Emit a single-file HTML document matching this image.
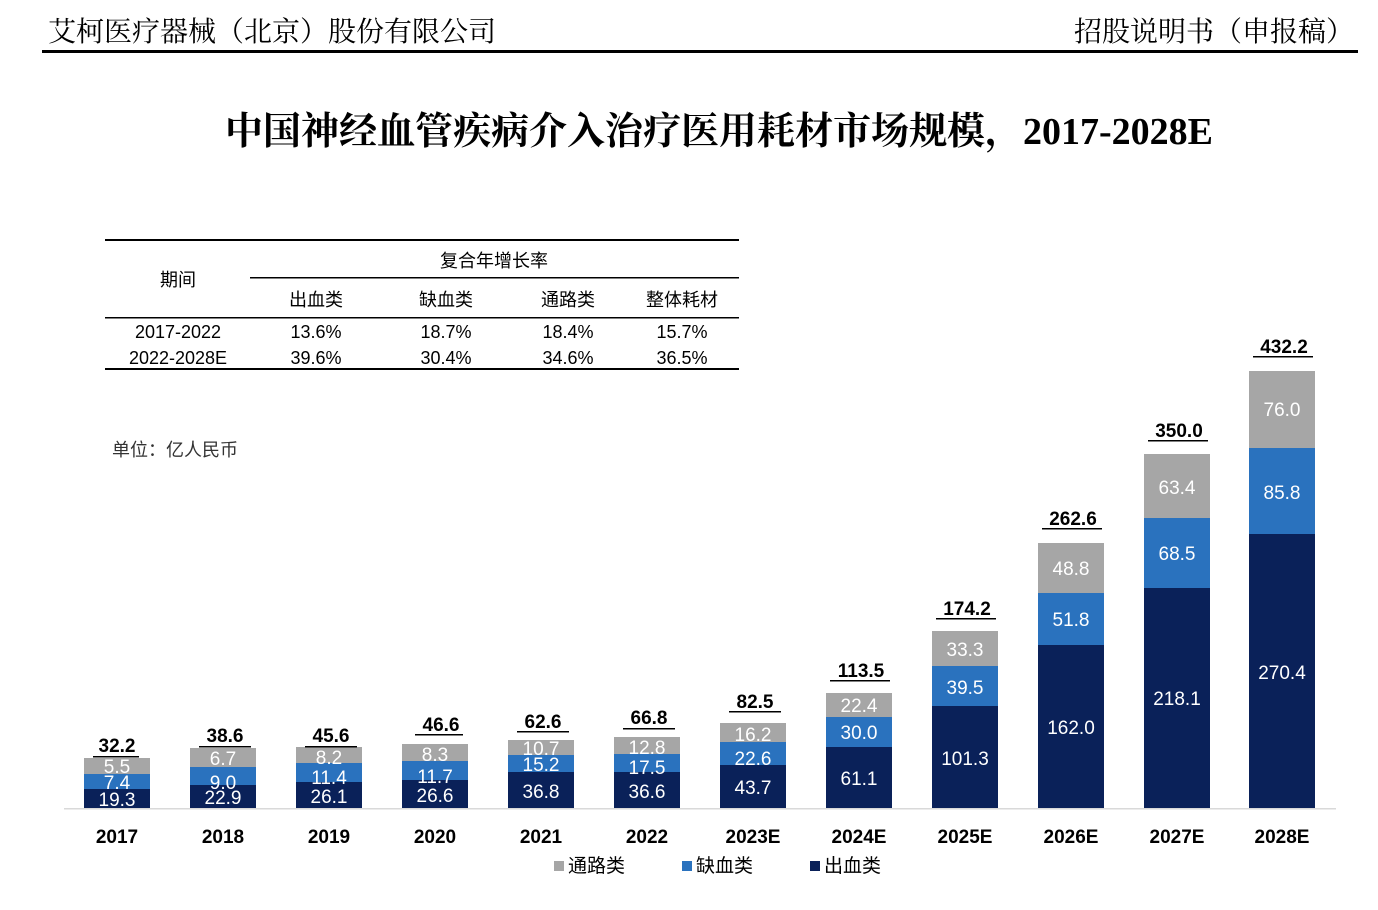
<!DOCTYPE html>
<html><head><meta charset="utf-8"><style>
html,body{margin:0;padding:0;background:#fff;}
svg{display:block;}
.s{font-family:"Liberation Serif","Noto Serif CJK SC",serif;}
.a{font-family:"Liberation Sans","Noto Sans CJK SC",sans-serif;}
</style></head><body>
<svg width="1378" height="910" viewBox="0 0 1378 910" xmlns="http://www.w3.org/2000/svg">
<text x="48" y="41" class="s" font-size="28" fill="#000">艾柯医疗器械（北京）股份有限公司</text>
<text x="1354" y="41" class="s" font-size="28" fill="#000" text-anchor="end">招股说明书（申报稿）</text>
<rect x="42" y="50" width="1316" height="3" fill="#000"/>
<text x="719" y="144" class="s" font-size="38" font-weight="bold" fill="#000" text-anchor="middle">中国神经血管疾病介入治疗医用耗材市场规模，2017-2028E</text>

<g class="a" font-size="18" fill="#000" text-anchor="middle">
<rect x="105" y="239" width="634" height="2" fill="#000"/>
<rect x="250" y="277" width="489" height="1.5" fill="#000"/>
<rect x="105" y="317" width="634" height="1.5" fill="#000"/>
<rect x="105" y="368" width="634" height="2" fill="#000"/>
<text x="178" y="286">期间</text>
<text x="494" y="267">复合年增长率</text>
<text x="316" y="306">出血类</text>
<text x="446" y="306">缺血类</text>
<text x="568" y="306">通路类</text>
<text x="682" y="306">整体耗材</text>
<text x="178" y="338">2017-2022</text>
<text x="316" y="338">13.6%</text><text x="446" y="338">18.7%</text><text x="568" y="338">18.4%</text><text x="682" y="338">15.7%</text>
<text x="178" y="364">2022-2028E</text>
<text x="316" y="364">39.6%</text><text x="446" y="364">30.4%</text><text x="568" y="364">34.6%</text><text x="682" y="364">36.5%</text>
</g>
<text x="112" y="456" class="a" font-size="18" fill="#333">单位：亿人民币</text>

<rect x="64" y="808" width="1272" height="1.5" fill="#d9d9d9"/>

<g class="a" font-size="19">
<rect x="84" y="758" width="66" height="16" fill="#a6a6a6"/><rect x="84" y="774" width="66" height="15" fill="#2a72be"/><rect x="84" y="789" width="66" height="19" fill="#0a2159"/>
<rect x="190" y="748" width="66" height="19" fill="#a6a6a6"/><rect x="190" y="767" width="66" height="18" fill="#2a72be"/><rect x="190" y="785" width="66" height="23" fill="#0a2159"/>
<rect x="296" y="747" width="66" height="16" fill="#a6a6a6"/><rect x="296" y="763" width="66" height="19" fill="#2a72be"/><rect x="296" y="782" width="66" height="26" fill="#0a2159"/>
<rect x="402" y="744" width="66" height="17" fill="#a6a6a6"/><rect x="402" y="761" width="66" height="19" fill="#2a72be"/><rect x="402" y="780" width="66" height="28" fill="#0a2159"/>
<rect x="508" y="740" width="66" height="15" fill="#a6a6a6"/><rect x="508" y="755" width="66" height="17" fill="#2a72be"/><rect x="508" y="772" width="66" height="36" fill="#0a2159"/>
<rect x="614" y="737" width="66" height="17" fill="#a6a6a6"/><rect x="614" y="754" width="66" height="18" fill="#2a72be"/><rect x="614" y="772" width="66" height="36" fill="#0a2159"/>
<rect x="720" y="723" width="66" height="19" fill="#a6a6a6"/><rect x="720" y="742" width="66" height="23" fill="#2a72be"/><rect x="720" y="765" width="66" height="43" fill="#0a2159"/>
<rect x="826" y="693" width="66" height="24" fill="#a6a6a6"/><rect x="826" y="717" width="66" height="30" fill="#2a72be"/><rect x="826" y="747" width="66" height="61" fill="#0a2159"/>
<rect x="932" y="631" width="66" height="35" fill="#a6a6a6"/><rect x="932" y="666" width="66" height="40" fill="#2a72be"/><rect x="932" y="706" width="66" height="102" fill="#0a2159"/>
<rect x="1038" y="543" width="66" height="50" fill="#a6a6a6"/><rect x="1038" y="593" width="66" height="52" fill="#2a72be"/><rect x="1038" y="645" width="66" height="163" fill="#0a2159"/>
<rect x="1144" y="454" width="66" height="64" fill="#a6a6a6"/><rect x="1144" y="518" width="66" height="70" fill="#2a72be"/><rect x="1144" y="588" width="66" height="220" fill="#0a2159"/>
<rect x="1249" y="371" width="66" height="77" fill="#a6a6a6"/><rect x="1249" y="448" width="66" height="86" fill="#2a72be"/><rect x="1249" y="534" width="66" height="274" fill="#0a2159"/>

<g fill="#fff" text-anchor="middle">
<text x="117" y="773">5.5</text><text x="117" y="789">7.4</text><text x="117" y="806">19.3</text>
<text x="223" y="765">6.7</text><text x="223" y="789">9.0</text><text x="223" y="804">22.9</text>
<text x="329" y="764">8.2</text><text x="329" y="784">11.4</text><text x="329" y="803">26.1</text>
<text x="435" y="761">8.3</text><text x="435" y="783">11.7</text><text x="435" y="802">26.6</text>
<text x="541" y="755">10.7</text><text x="541" y="771">15.2</text><text x="541" y="798">36.8</text>
<text x="647" y="754">12.8</text><text x="647" y="774">17.5</text><text x="647" y="798">36.6</text>
<text x="753" y="741">16.2</text><text x="753" y="765">22.6</text><text x="753" y="794">43.7</text>
<text x="859" y="712">22.4</text><text x="859" y="739">30.0</text><text x="859" y="785">61.1</text>
<text x="965" y="656">33.3</text><text x="965" y="694">39.5</text><text x="965" y="765">101.3</text>
<text x="1071" y="575">48.8</text><text x="1071" y="626">51.8</text><text x="1071" y="734">162.0</text>
<text x="1177" y="494">63.4</text><text x="1177" y="560">68.5</text><text x="1177" y="705">218.1</text>
<text x="1282" y="416">76.0</text><text x="1282" y="499">85.8</text><text x="1282" y="679">270.4</text>
</g>

<g fill="#000" text-anchor="middle" font-weight="bold">
<text x="117" y="752">32.2</text><text x="225" y="742">38.6</text><text x="331" y="742">45.6</text><text x="441" y="731">46.6</text>
<text x="543" y="728">62.6</text><text x="649" y="724">66.8</text><text x="755" y="708">82.5</text><text x="861" y="677">113.5</text>
<text x="967" y="615">174.2</text><text x="1073" y="525">262.6</text><text x="1179" y="437">350.0</text><text x="1284" y="353">432.2</text>
</g>
<g fill="#000">
<rect x="93" y="756" width="46" height="1.5"/><rect x="199" y="746" width="52" height="1.5"/><rect x="305" y="746" width="52" height="1.5"/><rect x="415" y="734" width="48" height="1.5"/>
<rect x="517" y="731" width="52" height="1.5"/><rect x="623" y="728" width="52" height="1.5"/><rect x="729" y="711" width="52" height="1.5"/><rect x="830" y="680" width="60" height="1.5"/>
<rect x="936" y="618" width="60" height="1.5"/><rect x="1042" y="528" width="60" height="1.5"/><rect x="1148" y="440" width="60" height="1.5"/><rect x="1253" y="356" width="60" height="1.5"/>
</g>

<g fill="#000" text-anchor="middle" font-weight="bold" font-size="19">
<text x="117" y="843">2017</text><text x="223" y="843">2018</text><text x="329" y="843">2019</text><text x="435" y="843">2020</text>
<text x="541" y="843">2021</text><text x="647" y="843">2022</text><text x="753" y="843">2023E</text><text x="859" y="843">2024E</text>
<text x="965" y="843">2025E</text><text x="1071" y="843">2026E</text><text x="1177" y="843">2027E</text><text x="1282" y="843">2028E</text>
</g>

<g font-size="19" fill="#000">
<rect x="554" y="861" width="10" height="10" fill="#a6a6a6"/><text x="568" y="872">通路类</text>
<rect x="682" y="861" width="10" height="10" fill="#2a72be"/><text x="696" y="872">缺血类</text>
<rect x="810" y="861" width="10" height="10" fill="#0a2159"/><text x="824" y="872">出血类</text>
</g>
</g>
</svg>
</body></html>
